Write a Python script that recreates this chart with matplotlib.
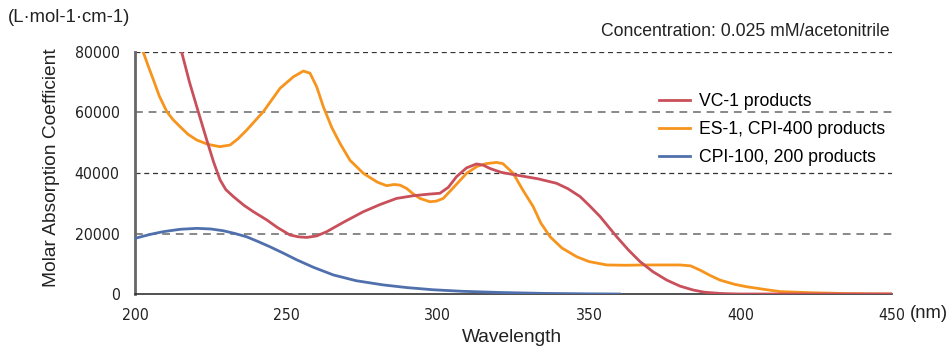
import matplotlib
matplotlib.use('Agg')
import matplotlib.pyplot as plt

## DATA
vc1_nm = [213, 215.4, 218, 220.4, 223.7, 226, 228.1, 230, 232.5, 236, 239.1, 243.5, 247, 251.2,
          254, 256.7, 260, 263.3, 269, 275.4, 281, 286.4, 292, 296.9, 300.7, 303.5, 306.2, 309.5,
          312.8, 315, 317.2, 321, 326, 333, 339.2, 343, 347, 350, 353.6, 359.1, 363, 366.8, 371,
          375.6, 380, 384.4, 388, 393, 397, 400, 420, 450]
vc1_val = [88000, 80000, 70000, 61900, 50900, 43500, 37700, 34500, 32200, 29300, 27200, 24500,
           22000, 19500, 18900, 18700, 19200, 20600, 23800, 27200, 29600, 31600, 32500, 33000,
           33300, 35300, 38800, 41700, 43000, 42600, 41500, 40200, 39300, 38100, 36600, 34800,
           32200, 29300, 25600, 18900, 14500, 10700, 7400, 4600, 2600, 1300, 600, 200, 50, 0, 0, 0]

es1_nm = [200, 202.7, 204.5, 206, 208, 210.5, 212.5, 214.9, 217.5, 220.4, 224, 228, 231.4, 234,
          236.9, 242.4, 247.9, 252.3, 255.6, 257.8, 260, 262.2, 265, 267.7, 271, 275.4, 280,
          283.1, 285.5, 287.5, 289.7, 292, 294.1, 297.4, 299.5, 301.8, 305, 309.5, 313, 316,
          319.4, 321.5, 324.9, 328, 331.5, 334, 337.1, 341, 345.9, 350, 355.8, 362, 367.9, 374,
          380, 383.5, 386.6, 390, 393.2, 398, 402, 408, 413, 424, 435, 450]
es1_val = [88000, 80000, 75000, 71000, 65500, 60300, 57700, 55300, 52800, 50900, 49500, 48700,
           49250, 51300, 54200, 60300, 68000, 71800, 73700, 73000, 68500, 61900, 55000, 49800,
           44200, 39900, 37000, 35800, 36200, 36000, 34900, 33000, 31600, 30500, 30700, 31600,
           35000, 39900, 42200, 43100, 43500, 43100, 39900, 34500, 28900, 23500, 18900, 15200,
           12300, 10700, 9600, 9500, 9600, 9600, 9600, 9300, 7900, 6100, 4600, 3200, 2400, 1500,
           800, 400, 150, 0]

cpi_nm = [200, 205, 209.3, 215, 220.4, 225, 229.2, 233, 236.9, 240.5, 244.6, 249, 253.4, 259,
          265.5, 273, 282, 290, 298.5, 308, 320.5, 335, 350, 360]
cpi_val = [18400, 19700, 20600, 21400, 21700, 21500, 20900, 20000, 18900, 17400, 15600, 13500,
           11300, 8800, 6300, 4400, 3000, 2100, 1400, 900, 500, 200, 50, 0]

series_labels = ['VC-1 products', 'ES-1, CPI-400 products', 'CPI-100, 200 products']
x_ticks = [200, 250, 300, 350, 400, 450]
y_ticks = [0, 20000, 40000, 60000, 80000]

## FONTS
plt.rcParams['font.family'] = ['Liberation Sans', 'DejaVu Sans']
tick_kw = dict(family='DejaVu Sans', stretch='condensed', fontsize=11.3, color='#222222')

## FIGURE AND AXES
fig = plt.figure(figsize=(9.48, 3.48), dpi=100)
ax = fig.add_axes([135 / 948, 1 - 294 / 348, (892 - 135) / 948, (294 - 52) / 348])

## GRID LINES (ALTERNATING DARK / GREY DASHES)
for v in y_ticks[1:]:
    if v in (40000, 80000):
        ax.axhline(v, color='#333333', linestyle=(0, (4, 3)), linewidth=0.9, zorder=1)
    else:
        ax.axhline(v, color='#888888', linestyle=(0, (4, 3)), linewidth=1.4, zorder=1)

## CURVES
ax.plot(cpi_nm, cpi_val, color='#5070ad', linewidth=2.0, label=series_labels[2], zorder=3)
ax.plot(es1_nm, es1_val, color='#f7941d', linewidth=2.0, label=series_labels[1], zorder=4)
ax.plot(vc1_nm, vc1_val, color='#c9505b', linewidth=2.0, label=series_labels[0], zorder=5)

ax.set_xlim(200, 450)
ax.set_ylim(0, 80000)

## AXES STYLING
for s in ('top', 'right'):
    ax.spines[s].set_visible(False)
ax.spines['left'].set_color('#666666')
ax.spines['left'].set_linewidth(2)
ax.spines['bottom'].set_color('#333333')
ax.spines['bottom'].set_linewidth(1.2)

ax.set_xticks(x_ticks)
ax.set_xticklabels([str(t) for t in x_ticks], **tick_kw)
ax.set_xticks(x_ticks[1:-1], minor=True)
ax.set_yticks(y_ticks)
ax.set_yticklabels([str(t) for t in y_ticks], **tick_kw)
ax.tick_params(axis='x', which='major', length=0, pad=10)
ax.tick_params(axis='y', which='major', length=0, pad=11)
ax.tick_params(axis='x', which='minor', direction='in', length=6, width=1, color='#333333')

## LABELS AND ANNOTATIONS
fig.text(8 / 948, 1 - 18 / 348, '(L·mol-1·cm-1)', fontsize=13.3, color='#222222', va='center', ha='left')
fig.text(890 / 948, 1 - 32 / 348, 'Concentration: 0.025 mM/acetonitrile', fontsize=12.7,
         color='#222222', va='center', ha='right')
fig.text(52 / 948, 1 - 168 / 348, 'Molar Absorption Coefficient', fontsize=13.8, color='#222222',
         rotation=90, va='center', ha='center')
fig.text(512 / 948, 1 - 338 / 348, 'Wavelength', fontsize=13.8, color='#222222', va='center', ha='center')
fig.text(910 / 948, 1 - 313 / 348, '(nm)', fontsize=13.3, color='#222222', va='center', ha='left')

## LEGEND IN DRAW ORDER OF REFERENCE
handles, labels = ax.get_legend_handles_labels()
order = [labels.index(l) for l in series_labels]
ax.legend([handles[i] for i in order], [labels[i] for i in order], frameon=False, fontsize=12.7,
          loc='upper left', bbox_to_anchor=(652 / 948, 1 - 86 / 348), bbox_transform=fig.transFigure,
          handlelength=1.75, handletextpad=0.5, labelspacing=0.62, borderaxespad=0)

fig.savefig('out.png', dpi=100)
